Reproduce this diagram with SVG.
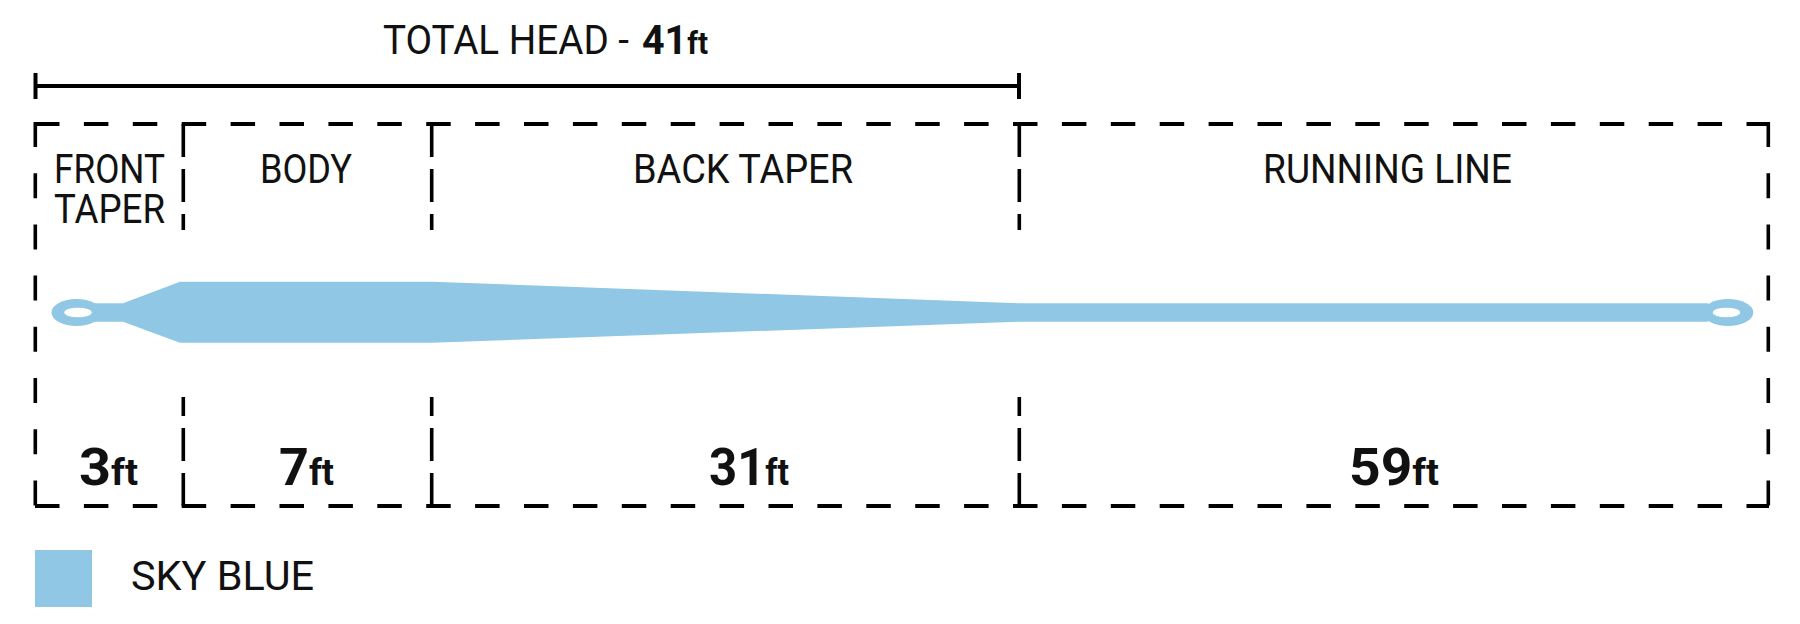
<svg xmlns="http://www.w3.org/2000/svg" width="1800" height="624" viewBox="0 0 1800 624">
  <style>
    .lbl { font-family: Roboto, "Liberation Sans", sans-serif; font-size: 41px; fill: #111; font-weight: 400; }
    .num { font-family: Roboto, "Liberation Sans", sans-serif; font-size: 52px; fill: #111; font-weight: 700; }
    .ft { font-size: 36px; }
    .hdash { stroke: #000; stroke-width: 4; fill: none; stroke-dasharray: 24.5 24.4; }
    .vdash { stroke: #000; stroke-width: 3.6; fill: none; stroke-dasharray: 25 26.2; }
    .div { stroke: #000; stroke-width: 3.6; fill: none; stroke-dasharray: 33 12; }
    .solid { stroke: #000; stroke-width: 4; fill: none; }
    .line { fill: #8fc7e5; }
  </style>
  <rect width="1800" height="624" fill="#fff"/>

  <g id="total-head">
    <line class="solid" x1="35.5" y1="86" x2="1019" y2="86"/>
    <line class="solid" x1="35.5" y1="73" x2="35.5" y2="99"/>
    <line class="solid" x1="1019" y1="73" x2="1019" y2="99"/>
    <text class="lbl" x="383" y="54" textLength="246" lengthAdjust="spacingAndGlyphs">TOTAL HEAD -</text>
    <text class="num" x="642" y="54" style="font-size:41px" textLength="66" lengthAdjust="spacingAndGlyphs">41<tspan style="font-size:31px">ft</tspan></text>
  </g>

  <g id="connectors">
    <line class="hdash" x1="35" y1="124" x2="1769" y2="124"/>
    <line class="hdash" x1="35" y1="506" x2="1769" y2="506"/>
    <line class="vdash" x1="35.3" y1="122" x2="35.3" y2="508"/>
    <line class="vdash" x1="1768.3" y1="122" x2="1768.3" y2="508"/>
    <line class="div" x1="183.3" y1="124" x2="183.3" y2="230"/>
    <line class="div" x1="183.3" y1="506" x2="183.3" y2="397"/>
    <line class="div" x1="431.7" y1="124" x2="431.7" y2="230"/>
    <line class="div" x1="431.7" y1="506" x2="431.7" y2="397"/>
    <line class="div" x1="1019.3" y1="124" x2="1019.3" y2="230"/>
    <line class="div" x1="1019.3" y1="506" x2="1019.3" y2="397"/>
  </g>

  <g id="front-taper">
    <text class="lbl" x="54" y="183" textLength="111" lengthAdjust="spacingAndGlyphs">FRONT</text>
    <text class="lbl" x="54" y="222.5" textLength="111" lengthAdjust="spacingAndGlyphs">TAPER</text>
    <text class="num" x="79" y="485" textLength="59" lengthAdjust="spacingAndGlyphs">3<tspan class="ft">ft</tspan></text>
  </g>

  <g id="body">
    <text class="lbl" x="260" y="183" textLength="92" lengthAdjust="spacingAndGlyphs">BODY</text>
    <text class="num" x="279" y="485" textLength="55" lengthAdjust="spacingAndGlyphs">7<tspan class="ft">ft</tspan></text>
  </g>

  <g id="back-taper">
    <text class="lbl" x="633" y="183" textLength="220" lengthAdjust="spacingAndGlyphs">BACK TAPER</text>
    <text class="num" x="709" y="485" textLength="80" lengthAdjust="spacingAndGlyphs">31<tspan class="ft">ft</tspan></text>
  </g>

  <g id="running-line">
    <text class="lbl" x="1263" y="183" textLength="249" lengthAdjust="spacingAndGlyphs">RUNNING LINE</text>
    <text class="num" x="1349" y="485" textLength="90" lengthAdjust="spacingAndGlyphs">59<tspan class="ft">ft</tspan></text>
  </g>

  <g id="fly-line">
    <path class="line" d="M 92 303.3 L 123 303.3 L 180 281.7 L 431.5 281.7 L 1019 303.3 L 1708 303.3 L 1708 321.7 L 1019 321.7 L 431.5 342.8 L 180 342.8 L 123 321.7 L 92 321.7 Z"/>
    <ellipse class="line" cx="76.5" cy="312.5" rx="25" ry="13.5"/>
    <ellipse class="line" cx="1728" cy="312.5" rx="25.3" ry="13.5"/>
    <ellipse cx="78" cy="312.5" rx="13.7" ry="4.8" fill="#fff"/>
    <ellipse cx="1726.5" cy="312.5" rx="13.7" ry="4.8" fill="#fff"/>
  </g>

  <g id="legend">
    <rect x="35" y="550" width="57" height="57" fill="#8fc7e5"/>
    <text class="lbl" x="131" y="590" textLength="183" lengthAdjust="spacingAndGlyphs">SKY BLUE</text>
  </g>
</svg>
